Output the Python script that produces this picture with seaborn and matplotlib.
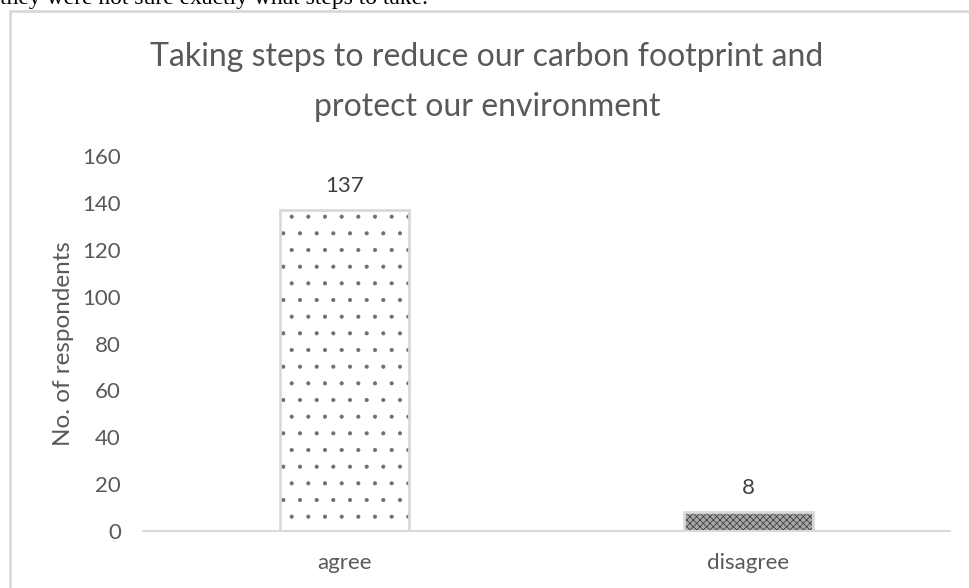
import numpy as np
import pandas as pd
import seaborn as sns
import matplotlib.pyplot as plt
from matplotlib.patches import Rectangle

# Data
answers = ['agree', 'disagree']
respondents = [137, 8]
patterns = ['.', 'xxxxx']
pattern_bg = ['white', '#a6a6a6']
pattern_fg = ['#6e6e6e', '#333333']

df = pd.DataFrame({'Answer': answers, 'Respondents': respondents})

sns.set_theme(style='white')
plt.rcParams['font.family'] = ['Lato', 'DejaVu Sans']
plt.rcParams['hatch.linewidth'] = 0.5

grey_text = '#595959'
grey_line = '#d9d9d9'

fig = plt.figure(figsize=(9.69, 5.88), dpi=100)
ax = fig.add_axes([143 / 969, 1 - 531 / 588, 807 / 969, 375 / 588])

sns.barplot(data=df, x='Answer', y='Respondents', color='white',
            width=0.32, ax=ax, saturation=1)

for bar, hatch, bg, fg in zip(ax.patches, patterns, pattern_bg, pattern_fg):
    bar.set_hatch(hatch)
    bar.set_facecolor(bg)
    bar.set_edgecolor(fg)
    bar.set_linewidth(0)
    ax.add_patch(Rectangle(bar.get_xy(), bar.get_width(), bar.get_height(),
                           fill=False, edgecolor=grey_line, lw=2, zorder=3))

ax.bar_label(ax.containers[0], padding=10, fontsize=16, color='#404040')

ax.set_ylim(0, 160)
ax.set_yticks(np.arange(0, 161, 20))
ax.set_xlim(-0.5, 1.5)
ax.tick_params(axis='y', length=0, pad=16, labelsize=16, labelcolor=grey_text)
ax.tick_params(axis='x', length=0, pad=16, labelsize=16, labelcolor=grey_text)
ax.set_xlabel('')
ax.set_ylabel('No. of respondents', fontsize=17.5, color=grey_text)
ax.yaxis.set_label_coords(-0.086, 0.5)

for side in ['top', 'right', 'left']:
    ax.spines[side].set_visible(False)
ax.spines['bottom'].set_color(grey_line)
ax.spines['bottom'].set_linewidth(1.5)

fig.text(487 / 969, 1 - 57 / 588, 'Taking steps to reduce our carbon footprint and',
         ha='center', va='center', fontsize=23, color=grey_text)
fig.text(487 / 969, 1 - 107 / 588, 'protect our environment',
         ha='center', va='center', fontsize=23, color=grey_text)

# chart frame and the cut-off document text above it
fig.patches.append(Rectangle((10 / 969, -0.05), 1.0, 1 - 11 / 588 + 0.05,
                             transform=fig.transFigure, fill=False,
                             edgecolor=grey_line, lw=2))
fig.text(0.0, 1 - 4 / 588, 'they were not sure exactly what steps to take.',
         ha='left', va='baseline', fontsize=17, color='black',
         family=['Liberation Serif'])

fig.savefig('out.png', dpi=100)
